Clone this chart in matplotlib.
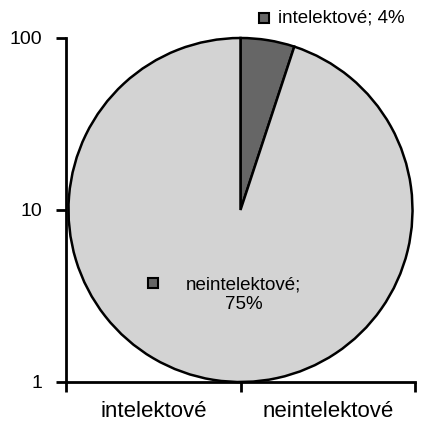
import matplotlib.pyplot as plt

# data
categories = ['intelektové', 'neintelektové']
values = [4, 75]
labels = ['intelektové; 4%', 'neintelektové;\n75%']
colors = ['#666666', '#d3d3d3']
yticks = [1, 10, 100]

plt.rcParams['font.family'] = ['Liberation Sans', 'DejaVu Sans']

fig = plt.figure(figsize=(4.32, 4.32), dpi=100)
rect = [66 / 432, 50 / 432, 349 / 432, 344 / 432]

# background axis with log scale and categories
ax = fig.add_axes(rect)
ax.set_yscale('log')
ax.set_ylim(1, 100)
ax.set_xlim(0, len(categories))
ax.set_yticks(yticks)
ax.set_yticklabels([str(t) for t in yticks], fontsize=14)
ax.minorticks_off()
ax.set_xticks([0, 1, 2])
ax.set_xticklabels(['', '', ''])
ax.set_xticks([0.5, 1.5], minor=True)
ax.set_xticklabels(categories, minor=True, fontsize=16)
ax.tick_params(axis='x', which='minor', length=0, pad=14)
ax.tick_params(axis='both', which='major', length=7, width=2, direction='out')
ax.tick_params(axis='y', pad=10)
for s in ['top', 'right']:
    ax.spines[s].set_visible(False)
for s in ['left', 'bottom']:
    ax.spines[s].set_linewidth(2)

# pie on top
pax = fig.add_axes(rect)
pax.pie(values, colors=colors, startangle=90, counterclock=False,
        wedgeprops=dict(edgecolor='black', linewidth=1.8), radius=1)
pax.set_xlim(-1, 1)
pax.set_ylim(-1, 1)
pax.set_aspect('equal')
pax.axis('off')

# labels with legend keys
pax.plot(0.134, 1.116, marker='s', markersize=6.5, markerfacecolor=colors[0],
         markeredgecolor='black', markeredgewidth=1.5, clip_on=False)
pax.text(0.22, 1.116, labels[0], fontsize=13.5, ha='left', va='center')
pax.plot(-0.506, -0.424, marker='s', markersize=6.5, markerfacecolor=colors[0],
         markeredgecolor='black', markeredgewidth=1.5, clip_on=False)
pax.text(0.017, -0.494, labels[1], fontsize=13.5, ha='center', va='center',
         linespacing=1.2)

plt.savefig('out.png', dpi=100)
